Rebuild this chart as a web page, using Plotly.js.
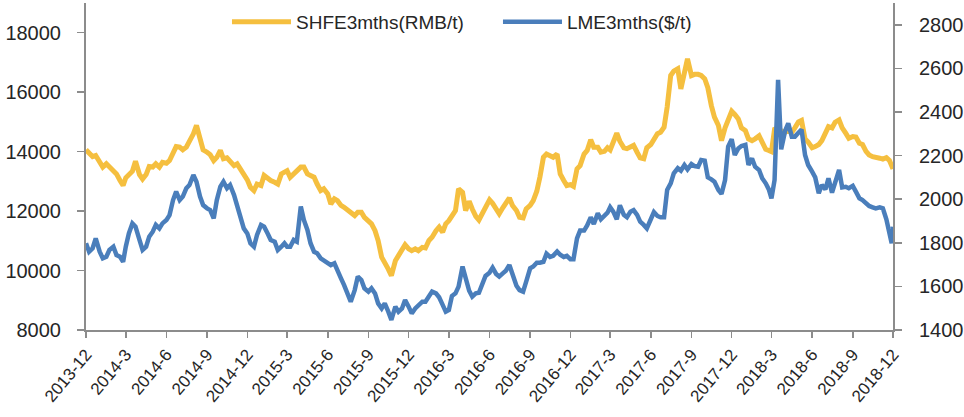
<!DOCTYPE html>
<html><head><meta charset="utf-8">
<script src="https://cdn.plot.ly/plotly-3.0.1.min.js"></script>
<style>html,body{margin:0;padding:0;background:#fff;} #chart{width:964px;height:417px;}</style>
</head><body><div id="chart"></div>
<script>
const dates = [
"2013-12-01","2013-12-08","2013-12-16","2013-12-23",
"2014-01-01","2014-01-08","2014-01-16","2014-01-23",
"2014-02-01","2014-02-08","2014-02-16","2014-02-23",
"2014-03-01","2014-03-08","2014-03-16","2014-03-23",
"2014-04-01","2014-04-08","2014-04-16","2014-04-23",
"2014-05-01","2014-05-08","2014-05-16","2014-05-23",
"2014-06-01","2014-06-08","2014-06-16","2014-06-23",
"2014-07-01","2014-07-08","2014-07-16","2014-07-23",
"2014-08-01","2014-08-08","2014-08-16","2014-08-23",
"2014-09-01","2014-09-08","2014-09-16","2014-09-23",
"2014-10-01","2014-10-08","2014-10-16","2014-10-23",
"2014-11-01","2014-11-08","2014-11-16","2014-11-23",
"2014-12-01","2014-12-08","2014-12-16","2014-12-23",
"2015-01-01","2015-01-08","2015-01-16","2015-01-23",
"2015-02-01","2015-02-08","2015-02-16","2015-02-23",
"2015-03-01","2015-03-08","2015-03-16","2015-03-23",
"2015-04-01","2015-04-08","2015-04-16","2015-04-23",
"2015-05-01","2015-05-08","2015-05-16","2015-05-23",
"2015-06-01","2015-06-08","2015-06-16","2015-06-23",
"2015-07-01","2015-07-08","2015-07-16","2015-07-23",
"2015-08-01","2015-08-08","2015-08-16","2015-08-23",
"2015-09-01","2015-09-08","2015-09-16","2015-09-23",
"2015-10-01","2015-10-08","2015-10-16","2015-10-23",
"2015-11-01","2015-11-08","2015-11-16","2015-11-23",
"2015-12-01","2015-12-08","2015-12-16","2015-12-23",
"2016-01-01","2016-01-08","2016-01-16","2016-01-23",
"2016-02-01","2016-02-08","2016-02-16","2016-02-23",
"2016-03-01","2016-03-08","2016-03-16","2016-03-23",
"2016-04-01","2016-04-08","2016-04-16","2016-04-23",
"2016-05-01","2016-05-08","2016-05-16","2016-05-23",
"2016-06-01","2016-06-08","2016-06-16","2016-06-23",
"2016-07-01","2016-07-08","2016-07-16","2016-07-23",
"2016-08-01","2016-08-08","2016-08-16","2016-08-23",
"2016-09-01","2016-09-08","2016-09-16","2016-09-23",
"2016-10-01","2016-10-08","2016-10-16","2016-10-23",
"2016-11-01","2016-11-08","2016-11-16","2016-11-23",
"2016-12-01","2016-12-08","2016-12-16","2016-12-23",
"2017-01-01","2017-01-08","2017-01-16","2017-01-23",
"2017-02-01","2017-02-08","2017-02-16","2017-02-23",
"2017-03-01","2017-03-08","2017-03-16","2017-03-23",
"2017-04-01","2017-04-08","2017-04-16","2017-04-23",
"2017-05-01","2017-05-08","2017-05-16","2017-05-23",
"2017-06-01","2017-06-08","2017-06-16","2017-06-23",
"2017-07-01","2017-07-08","2017-07-16","2017-07-23",
"2017-08-01","2017-08-08","2017-08-16","2017-08-23",
"2017-09-01","2017-09-08","2017-09-16","2017-09-23",
"2017-10-01","2017-10-08","2017-10-16","2017-10-23",
"2017-11-01","2017-11-08","2017-11-16","2017-11-23",
"2017-12-01","2017-12-08","2017-12-16","2017-12-23",
"2018-01-01","2018-01-08","2018-01-16","2018-01-23",
"2018-02-01","2018-02-08","2018-02-16","2018-02-23",
"2018-03-01","2018-03-08","2018-03-16","2018-03-23",
"2018-04-01","2018-04-08","2018-04-16","2018-04-23",
"2018-05-01","2018-05-08","2018-05-16","2018-05-23",
"2018-06-01","2018-06-08","2018-06-16","2018-06-23",
"2018-07-01","2018-07-08","2018-07-16","2018-07-23",
"2018-08-01","2018-08-08","2018-08-16","2018-08-23",
"2018-09-01","2018-09-08","2018-09-16","2018-09-23",
"2018-10-01","2018-10-08","2018-10-16","2018-10-23",
"2018-11-01","2018-11-08","2018-11-16","2018-11-23",
"2018-11-28","2018-12-01"
];

const shfe = [
14060,13920,13830,13870,13640,13480,13590,13480,13340,13250,13030,12860,13120,13230,13340,13680,
13230,13080,13230,13500,13480,13590,13480,13640,13610,13700,13920,14170,14150,14060,14150,14320,
14600,14880,14490,14060,13980,13900,13700,13810,14040,13760,13790,13680,13530,13590,13420,13200,13050,
12800,12690,12910,12860,13200,13080,13030,12970,12910,13250,13310,13360,13140,13250,13360,13480,
13480,13250,13200,13140,12910,12690,12750,12580,12240,12410,12350,12190,12130,12020,11960,11850,
11960,11960,11790,11680,11570,11340,11010,10450,10280,10050,9830,10330,10500,10730,10870,10730,10670,
10730,10670,10780,10760,11010,11120,11340,11460,11290,11570,11680,11850,12020,12750,12630,12020,
12330,12070,11820,11700,11930,12110,12380,12260,12040,11910,12110,12300,12440,12190,12020,11790,
11770,12070,12190,12350,12670,13140,13810,13920,13870,13810,13920,13250,13030,12860,12890,12830,13420,
13530,13920,14040,14400,14150,14150,13980,14010,14130,14060,14350,14620,14350,14130,14100,14170,
14210,13980,13790,13760,14130,14240,14400,14600,14650,14820,15500,16560,16710,16790,16110,16730,
17120,16560,16600,16600,16560,16450,16150,15550,15160,14880,14370,14800,15100,15360,15250,15100,14800,
14710,14430,14370,14430,14530,14320,14080,14040,14000,14750,14800,14700,14650,14700,14650,14800,
15000,15050,14430,14320,14130,14170,14240,14370,14680,14840,14800,14990,15070,14800,14620,14450,
14510,14490,14280,14240,14010,13890,13830,13790,13780,13750,13800,13700,13500,13420
];

const lme = [
1798,1759,1775,1820,1759,1729,1736,1767,1782,1744,1736,1713,1782,1843,1889,1874,
1813,1767,1782,1828,1851,1882,1866,1889,1905,1927,1996,2035,1996,2012,2050,2065,
2111,2080,2012,1973,1958,1950,1912,1996,2057,2080,2050,2065,2019,1973,1912,1866,
1843,1798,1782,1836,1882,1874,1843,1813,1805,1767,1782,1798,1782,
1782,1813,1805,1966,1905,1859,1798,1759,1752,1729,1718,1706,1698,1706,1668,1637,
1606,1568,1530,1583,1645,1629,1591,1576,1591,1568,1522,1499,1522,1484,1446,1507,
1484,1499,1538,1507,1476,
1499,1515,1530,1530,1553,1576,1568,1550,1515,1484,1492,1556,1568,1599,1691,1629,
1580,1553,1568,1571,1617,1648,1663,1686,1657,1645,1660,1672,1698,1652,1603,1583,
1576,1622,1683,1691,1709,1709,1713,1750,1735,1740,1760,1745,1735,1740,1725,1725,1820,
1856,1856,1880,1917,1886,1935,1908,1923,1938,1963,1943,1908,1972,1928,1917,1943,
1950,1928,1897,1882,1866,1908,1941,1923,1917,1917,2042,2073,2119,2142,2131,2157,
2137,2161,2152,2149,2180,2177,2100,2091,2080,2042,2024,2088,2241,2275,2203,2233,2244,
2249,2157,2187,2149,2134,2096,2073,2045,2004,2088,2547,2229,2314,2348,2287,2287,
2305,2320,2203,2157,2126,2100,2027,2065,2045,2096,2030,2080,2134,2054,2057,2050,
2061,2035,2004,1996,1978,1969,1963,1958,1963,1958,1908,1846,1798,1874
];

const tickDates = ["2013-12-01","2014-03-01","2014-06-01","2014-09-01","2014-12-01","2015-03-01","2015-06-01",
"2015-09-01","2015-12-01","2016-03-01","2016-06-01","2016-09-01","2016-12-01","2017-03-01","2017-06-01",
"2017-09-01","2017-12-01","2018-03-01","2018-06-01","2018-09-01","2018-12-01"];
const tickLabels = ["2013-12","2014-3","2014-6","2014-9","2014-12","2015-3","2015-6","2015-9","2015-12",
"2016-3","2016-6","2016-9","2016-12","2017-3","2017-6","2017-9","2017-12","2018-3","2018-6","2018-9","2018-12"];
const seriesNames = ["SHFE3mths(RMB/t)","LME3mths($/t)"];
const seriesColors = ["#F5BF3F","#4A7EBB"];

const axisGray = "#8c8c8c";
const textColor = "#262626";
const traces = [
  {x: dates, y: shfe, name: seriesNames[0], type: "scatter", mode: "lines",
   line: {color: seriesColors[0], width: 5}, yaxis: "y", legend: "legend"},
  {x: dates, y: lme, name: seriesNames[1], type: "scatter", mode: "lines",
   line: {color: seriesColors[1], width: 4.5}, yaxis: "y2", legend: "legend2"}
];

const legendBase = {orientation: "h", xanchor: "left", y: 1, yanchor: "top",
  font: {size: 19, color: textColor}, bgcolor: "rgba(0,0,0,0)", itemwidth: 59};

const layout = {
  width: 964, height: 417,
  margin: {l: 86, r: 71, t: 3, b: 87, pad: 0},
  paper_bgcolor: "#ffffff", plot_bgcolor: "#ffffff",
  font: {family: "Liberation Sans, Arial, sans-serif", color: textColor},
  showlegend: true,
  legend: Object.assign({}, legendBase, {x: 0.1747}),
  legend2: Object.assign({}, legendBase, {x: 0.5105}),
  xaxis: {type: "date", range: ["2013-12-01", "2018-12-01"], tickmode: "array",
          tickvals: tickDates, ticktext: tickLabels, tickangle: -50,
          ticks: "outside", ticklen: 6, tickwidth: 1.5, tickcolor: axisGray,
          showline: true, linecolor: axisGray, linewidth: 2, showgrid: false, zeroline: false,
          tickfont: {size: 17, color: textColor, family: "Liberation Sans, Arial, sans-serif"}},
  yaxis: {range: [8000, 19000], tickmode: "linear", tick0: 8000, dtick: 2000, tickformat: "d",
          ticks: "outside", ticklen: 7, tickwidth: 1.5, tickcolor: axisGray,
          showline: true, linecolor: axisGray, linewidth: 2, showgrid: false, zeroline: false,
          tickfont: {size: 20, color: textColor}, ticklabelstandoff: 12},
  yaxis2: {range: [1400, 2900], tickmode: "linear", tick0: 1400, dtick: 200, tickformat: "d",
           overlaying: "y", side: "right",
           ticks: "outside", ticklen: 7, tickwidth: 1.5, tickcolor: axisGray,
           showline: true, linecolor: axisGray, linewidth: 2, showgrid: false, zeroline: false,
           tickfont: {size: 20, color: textColor}, ticklabelstandoff: 13}
};

Plotly.newPlot("chart", traces, layout, {displayModeBar: false, staticPlot: true});
</script>
</body></html>
